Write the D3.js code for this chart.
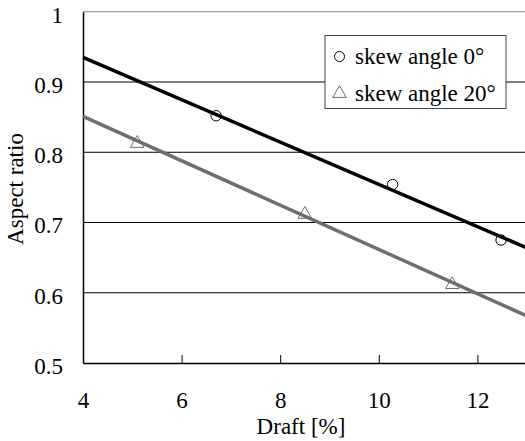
<!DOCTYPE html>
<html>
<head>
<meta charset="utf-8">
<script src="https://cdn.jsdelivr.net/npm/d3@7"></script>
<style>
  body { margin: 0; background: #fff; }
</style>
</head>
<body>
<div id="chart"></div>
<script>
// measured points
var skew0Draft = [6.7, 10.28, 12.48];
var skew0Ratio = [0.852, 0.754, 0.675];
var skew20Draft = [5.1, 8.5, 11.49];
var skew20Ratio = [0.814, 0.713, 0.613];

// fitted trend lines (end points)
var fitDraft = [4, 13];
var fit0Ratio = [0.935, 0.664];
var fit20Ratio = [0.851, 0.567];

var xTicks = [4, 6, 8, 10, 12];
var yTicks = [0.5, 0.6, 0.7, 0.8, 0.9, 1];
var legendLabels = ["skew angle 0°", "skew angle 20°"];

var FONT = "'Liberation Serif', 'Times New Roman', Times, serif";
var FS = 23;

function init() {
    var w = 525;
    var h = 441;

    var xScale = d3.scaleLinear().domain([4, 13]).range([83, 526.7]);
    var yScale = d3.scaleLinear().domain([0.5, 1]).range([363, 11.75]);

    var svg = d3.select("#chart")
        .append("svg")
        .attr("width", w)
        .attr("height", h)
        .style("font-family", FONT);

    //horizontal grid lines
    svg.append("g")
        .selectAll("line")
        .data(yTicks.filter(function (d) { return d > 0.5 && d < 1; }))
        .enter()
        .append("line")
        .attr("x1", xScale(4))
        .attr("x2", xScale(13))
        .attr("y1", function (d) { return yScale(d); })
        .attr("y2", function (d) { return yScale(d); })
        .attr("stroke", "#000")
        .attr("stroke-width", 1);

    //top border
    svg.append("line")
        .attr("x1", xScale(4))
        .attr("x2", xScale(13))
        .attr("y1", yScale(1))
        .attr("y2", yScale(1))
        .attr("stroke", "#888")
        .attr("stroke-width", 1.2);

    //x axis with inward ticks
    var xAxis = d3.axisBottom(xScale)
        .tickValues(xTicks)
        .tickSizeInner(-8)
        .tickSizeOuter(0)
        .tickPadding(29)
        .tickFormat(d3.format("d"));
    var gx = svg.append("g")
        .attr("transform", "translate(0," + yScale(0.5) + ")")
        .call(xAxis);
    gx.attr("font-family", null).attr("font-size", null);
    gx.select(".domain").attr("stroke", "#000").attr("stroke-width", 1.5);
    gx.selectAll(".tick line").attr("stroke", "#000").attr("stroke-width", 1);
    gx.selectAll(".tick text")
        .attr("font-size", FS)
        .style("font-family", FONT);
    gx.selectAll(".tick").filter(function (d) { return d === 4; }).select("line").remove();

    //y axis
    var yAxis = d3.axisLeft(yScale)
        .tickValues(yTicks)
        .tickSize(0)
        .tickPadding(20)
        .tickFormat(function (d) { return d === 1 ? "1" : d3.format(".1f")(d); });
    var gy = svg.append("g")
        .attr("transform", "translate(" + xScale(4) + ",0)")
        .call(yAxis);
    gy.attr("font-family", null).attr("font-size", null);
    gy.select(".domain").attr("stroke", "#000").attr("stroke-width", 1.5);
    gy.selectAll(".tick text")
        .attr("font-size", FS)
        .style("font-family", FONT)
        .attr("dy", "0.45em");

    //trend lines
    var line = d3.line()
        .x(function (d) { return xScale(d[0]); })
        .y(function (d) { return yScale(d[1]); });

    var plot = svg.append("g");

    plot.append("path")
        .datum(d3.zip(fitDraft, fit20Ratio))
        .attr("d", line)
        .attr("fill", "none")
        .attr("stroke", "#6e6e6e")
        .attr("stroke-width", 3.5);

    plot.append("path")
        .datum(d3.zip(fitDraft, fit0Ratio))
        .attr("d", line)
        .attr("fill", "none")
        .attr("stroke", "#000")
        .attr("stroke-width", 3.5);

    //circle markers
    plot.selectAll("circle.skew0")
        .data(d3.zip(skew0Draft, skew0Ratio))
        .enter()
        .append("circle")
        .attr("class", "skew0")
        .attr("cx", function (d) { return xScale(d[0]); })
        .attr("cy", function (d) { return yScale(d[1]); })
        .attr("r", 5.2)
        .attr("fill", "none")
        .attr("stroke", "#000")
        .attr("stroke-width", 1);

    //triangle markers
    var tri = d3.symbol().type(d3.symbolTriangle).size(80);
    plot.selectAll("path.skew20")
        .data(d3.zip(skew20Draft, skew20Ratio))
        .enter()
        .append("path")
        .attr("class", "skew20")
        .attr("d", tri)
        .attr("transform", function (d) {
            return "translate(" + xScale(d[0]) + "," + (yScale(d[1]) + 1) + ")";
        })
        .attr("fill", "none")
        .attr("stroke", "#6e6e6e")
        .attr("stroke-width", 1);

    //legend
    var legend = svg.append("g").attr("transform", "translate(325,35.5)");
    legend.append("rect")
        .attr("width", 181)
        .attr("height", 73)
        .attr("fill", "#fff")
        .attr("stroke", "#444")
        .attr("stroke-width", 1);
    legend.append("circle")
        .attr("cx", 14.5)
        .attr("cy", 21)
        .attr("r", 5)
        .attr("fill", "none")
        .attr("stroke", "#000");
    legend.append("path")
        .attr("d", tri)
        .attr("transform", "translate(14.5,58)")
        .attr("fill", "none")
        .attr("stroke", "#6e6e6e");
    legend.selectAll("text")
        .data(legendLabels)
        .enter()
        .append("text")
        .attr("x", 30)
        .attr("y", function (d, i) { return 28 + i * 37; })
        .attr("font-size", FS)
        .text(function (d) { return d; });

    //axis titles
    svg.append("text")
        .attr("x", 301)
        .attr("y", 434)
        .attr("text-anchor", "middle")
        .attr("font-size", FS)
        .text("Draft [%]");

    svg.append("text")
        .attr("transform", "translate(23,189) rotate(-90)")
        .attr("text-anchor", "middle")
        .attr("font-size", FS)
        .text("Aspect ratio");
}

window.onload = init;
</script>
</body>
</html>
